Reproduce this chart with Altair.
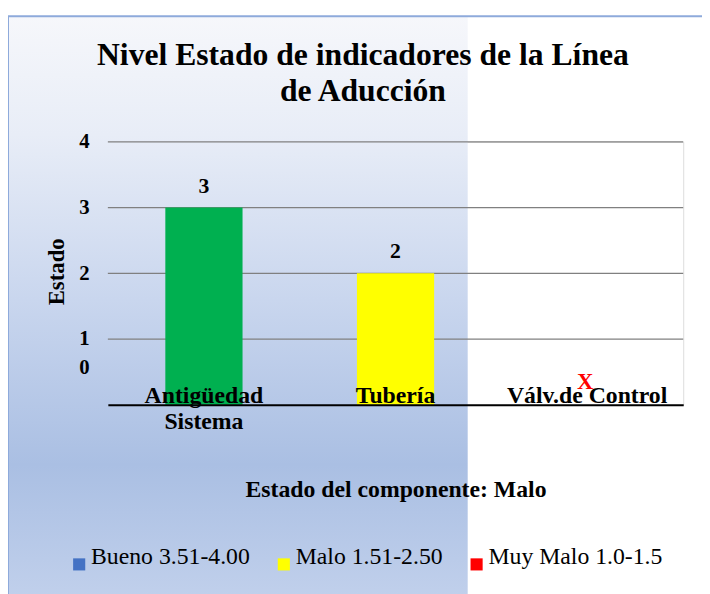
import altair as alt
import pandas as pd

categories = ["Antigüedad\nSistema", "Tubería", "Válv.de Control"]
values = [3, 2, 0]
bar_colors = ["#00B050", "#FFFF00", "#FFFFFF"]
value_labels = ["3", "2", ""]
missing_marks = ["", "", "X"]

legend_labels = ["Bueno 3.51-4.00", "Malo 1.51-2.50", "Muy Malo 1.0-1.5"]
legend_colors = ["#4472C4", "#FFFF00", "#FF0000"]

y_ticks = [0, 1, 2, 3, 4]
y_grid = [1, 2, 3, 4]

title_text = "Nivel Estado de indicadores de la Línea\nde Aducción"

FONT = "Liberation Serif"
W, H = 582, 266

df = pd.DataFrame({"cat": categories, "val": values, "col": bar_colors,
                   "lab": value_labels, "miss": missing_marks})
df_leg = pd.DataFrame({"estado": legend_labels})
df_grid = pd.DataFrame({"g": y_grid})
one = pd.DataFrame({"k": [0]})

xscale = alt.Scale(domain=categories, paddingInner=0.597, paddingOuter=0.3)
yscale = alt.Scale(domain=[0, 4], nice=False)

xenc = alt.X("cat:N", sort=categories, scale=xscale,
             axis=alt.Axis(labels=False, ticks=False, domainColor="black",
                           domainWidth=2, zindex=1,
                           title="Estado del componente: Malo",
                           titleFont=FONT, titleFontSize=24, titleFontWeight="bold",
                           titleColor="black", titleY=92.5, titleX=291,
                           titleBaseline="alphabetic"))

background = alt.Chart(one).mark_rect(
    fill=alt.Gradient(gradient="linear", x1=0, y1=0, x2=0, y2=1, stops=[
        alt.GradientStop(color="#F6F7FB", offset=0),
        alt.GradientStop(color="#E8EDF7", offset=0.2),
        alt.GradientStop(color="#C9D6EE", offset=0.48),
        alt.GradientStop(color="#AABFE3", offset=0.76),
        alt.GradientStop(color="#C2D1EC", offset=1),
    ])
).encode(x=alt.value(-101), x2=alt.value(364), y=alt.value(-127), y2=alt.value(470))

border = alt.Chart(one).mark_rect(
    fill=None, stroke="#8EAADB", strokeWidth=2
).encode(x=alt.value(-101), x2=alt.value(620), y=alt.value(-127), y2=alt.value(480))

grid = alt.Chart(df_grid).mark_rule(color="#808080", strokeWidth=1.2).encode(
    y=alt.Y("g:Q", scale=yscale)
)

bars = alt.Chart(df).mark_bar().encode(
    x=xenc,
    y=alt.Y("val:Q", scale=yscale,
            axis=alt.Axis(values=y_ticks, format="d", ticks=False, domain=False, grid=False,
                          zindex=1,
                          labelFont=FONT, labelFontSize=21, labelFontWeight="bold",
                          labelColor="black", labelPadding=19,
                          labelOffset={"condition": {"test": "datum.value == 0", "value": -38}, "value": 0},
                          title="Estado", titleFont=FONT, titleFontSize=23,
                          titleFontWeight="bold", titleColor="black",
                          titleAngle=270, titleX=-52, titleY=H / 2 - 2,
                          titleBaseline="middle")),
    color=alt.Color("col:N", scale=None, legend=None),
)

val_text = alt.Chart(df).mark_text(
    font=FONT, fontSize=22, fontWeight="bold", color="black", dy=-15, baseline="alphabetic"
).encode(x=alt.X("cat:N", sort=categories, scale=xscale), y=alt.Y("val:Q", scale=yscale), text="lab:N")

cat_text = alt.Chart(df).mark_text(
    font=FONT, fontSize=24, fontWeight="bold", color="black", dy=-2,
    baseline="alphabetic", lineBreak="\n", lineHeight=26
).encode(x=alt.X("cat:N", sort=categories, scale=xscale), y=alt.datum(0), text="cat:N")

miss_text = alt.Chart(df).mark_text(
    font=FONT, fontSize=23, fontWeight="bold", color="#FF0000", dy=-16, dx=-2,
    baseline="alphabetic"
).encode(x=alt.X("cat:N", sort=categories, scale=xscale), y=alt.datum(0), text="miss:N")

title = alt.Chart(one).mark_text(
    font=FONT, fontSize=32, fontWeight="bold", color="black", align="center",
    baseline="alphabetic", lineBreak="\n", lineHeight=36
).encode(x=alt.value(258), y=alt.value(-77.5), text=alt.value(title_text))

legend_layer = alt.Chart(df_leg).mark_square(opacity=0).encode(
    color=alt.Color("estado:N", sort=legend_labels,
                    scale=alt.Scale(domain=legend_labels, range=legend_colors),
                    legend=alt.Legend(orient="none", legendX=-41, legendY=415,
                                      direction="horizontal", title=None,
                                      symbolType="square", symbolSize=150,
                                      symbolOpacity=1, symbolStrokeWidth=0,
                                      labelFont=FONT, labelFontSize=24,
                                      labelBaseline="alphabetic",
                                      labelColor="black", labelOffset=0,
                                      columnPadding=22, labelLimit=300))
)

chart = alt.layer(background, border, grid, bars, val_text, cat_text, miss_text,
                  title, legend_layer).resolve_scale(
    color="independent"
).properties(
    width=W, height=H,
    padding={"left": 101, "top": 132, "right": 19, "bottom": 188},
    autosize=alt.AutoSizeParams(type="none"),
).configure_view(stroke=None).configure(background="white")

chart.save("out.html", embed_options={"renderer": "svg", "actions": False})
